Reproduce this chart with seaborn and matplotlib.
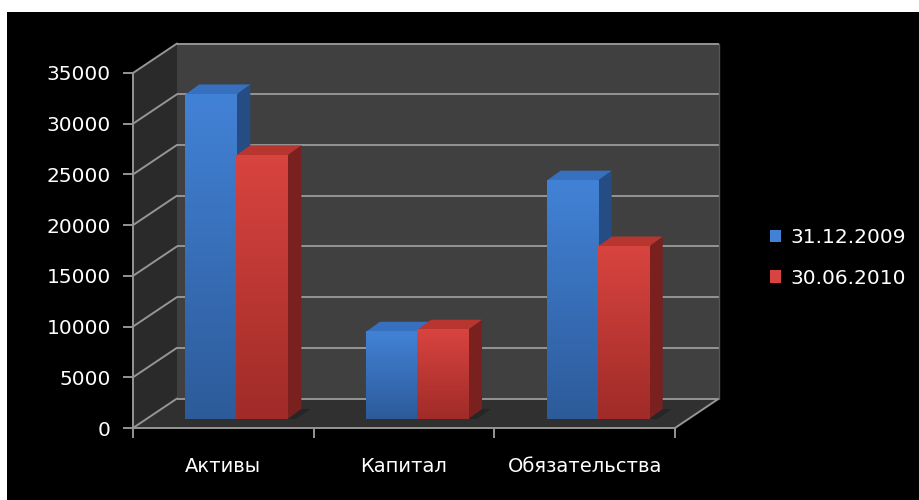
import numpy as np
import pandas as pd
import matplotlib
matplotlib.use("Agg")
import matplotlib.pyplot as plt
import seaborn as sns
from matplotlib.patches import Polygon, Rectangle, Patch
from matplotlib.colors import LinearSegmentedColormap

# ---------------- data ----------------
categories = ["Активы", "Капитал", "Обязательства"]
series_names = ["31.12.2009", "30.06.2010"]
values_2009 = [32000, 8600, 23500]
values_2010 = [26000, 8800, 17000]
y_ticks = [0, 5000, 10000, 15000, 20000, 25000, 30000, 35000]

# ---------------- style ----------------
sns.set_theme(style="dark")
plt.rcParams["font.family"] = ["DejaVu Sans"]

BLUE = {"front_top": "#4282d6", "front_bot": "#2d5b9a", "side": "#264d83", "top": "#3670bf"}
RED = {"front_top": "#d8443f", "front_bot": "#a02b28", "side": "#7a201e", "top": "#b93530"}
GRID = "#959595"
BACK_WALL = "#404040"
SIDE_WALL = "#2a2a2a"
FLOOR = "#303030"

W, H = 920, 500
fig = plt.figure(figsize=(W / 100, H / 100), dpi=100, facecolor="white")
fig.patches.append(Rectangle((7 / W, 0), 1, (H - 12) / H, transform=fig.transFigure,
                             facecolor="black", edgecolor="none", zorder=-10))

ax_left, ax_right, ax_bottom, ax_top = 133, 675, 428, 73
ax = fig.add_axes([ax_left / W, (H - ax_bottom) / H, (ax_right - ax_left) / W, (ax_bottom - ax_top) / H])
ax.set_facecolor("none")

df = pd.DataFrame({
    "Категория": categories * 2,
    "Дата": [s for s in series_names for _ in categories],
    "Значение": values_2009 + values_2010,
})
sns.barplot(data=df, x="Категория", y="Значение", hue="Дата", order=categories,
            hue_order=series_names, palette=[BLUE["front_top"], RED["front_top"]],
            width=0.565, saturation=1, errorbar=None, legend=False, ax=ax)

XMIN, XMAX, YMIN, YMAX = -0.5, 2.5, 0, 35000
px_x = (XMAX - XMIN) / (ax_right - ax_left)     # data units per pixel
px_y = (YMAX - YMIN) / (ax_bottom - ax_top)

WDX, WDY = 44 * px_x, 29.5 * px_y   # depth of the box
BDX, BDY = 13 * px_x, 9 * px_y      # bar front-face offset
DDX, DDY = 14 * px_x, 10 * px_y     # bar depth

# ---------------- walls & floor ----------------
ax.add_patch(Polygon([(XMIN + WDX, YMIN + WDY), (XMAX + WDX, YMIN + WDY),
                      (XMAX + WDX, YMAX + WDY), (XMIN + WDX, YMAX + WDY)],
                     closed=True, facecolor=BACK_WALL, edgecolor="none", clip_on=False, zorder=0.2))
ax.add_patch(Polygon([(XMIN, YMIN), (XMIN + WDX, YMIN + WDY), (XMIN + WDX, YMAX + WDY), (XMIN, YMAX)],
                     closed=True, facecolor=SIDE_WALL, edgecolor="none", clip_on=False, zorder=0.3))
ax.add_patch(Polygon([(XMIN, YMIN), (XMAX, YMIN), (XMAX + WDX, YMIN + WDY), (XMIN + WDX, YMIN + WDY)],
                     closed=True, facecolor=FLOOR, edgecolor="none", clip_on=False, zorder=0.3))

for v in y_ticks:
    ax.plot([XMIN + WDX, XMAX + WDX], [v + WDY, v + WDY], color=GRID, lw=1.4,
            clip_on=False, zorder=0.5, solid_capstyle="butt")
    ax.plot([XMIN, XMIN + WDX], [v, v + WDY], color=GRID, lw=1.4, clip_on=False, zorder=0.5)
ax.plot([XMAX, XMAX + WDX], [YMIN, YMIN + WDY], color=GRID, lw=1.4, clip_on=False, zorder=0.5)
ax.plot([XMAX + WDX, XMAX + WDX], [YMIN + WDY, YMAX + WDY], color="#555555", lw=1.0,
        clip_on=False, zorder=0.5)

# ---------------- 3D bars built from seaborn's bars ----------------
grad = np.linspace(1, 0, 128).reshape(-1, 1)
for container, col in zip(ax.containers, [BLUE, RED]):
    cmap = LinearSegmentedColormap.from_list("g", [col["front_bot"], col["front_top"]])
    for bar in container:
        x0 = bar.get_x() + BDX
        x1 = x0 + bar.get_width()
        y0 = bar.get_y() + BDY
        y1 = y0 + bar.get_height()
        bar.set_visible(False)
        z = 3 if col is BLUE else 4
        # soft shadow on the floor
        ax.add_patch(Polygon([(x1, y0), (x1 + 0.05, y0), (x1 + DDX + 0.05, y0 + DDY), (x1 + DDX, y0 + DDY)],
                             closed=True, facecolor="#1c1c1c", edgecolor="none", alpha=0.45, zorder=1))
        ax.add_patch(Polygon([(x1, y0), (x1 + DDX, y0 + DDY), (x1 + DDX, y1 + DDY), (x1, y1)],
                             closed=True, facecolor=col["side"], edgecolor="none", zorder=z))
        ax.add_patch(Polygon([(x0, y1), (x1, y1), (x1 + DDX, y1 + DDY), (x0 + DDX, y1 + DDY)],
                             closed=True, facecolor=col["top"], edgecolor="none", zorder=z))
        ax.imshow(grad, extent=(x0, x1, y0, y1), cmap=cmap, aspect="auto",
                  interpolation="bicubic", zorder=z + 0.1)

ax.set_xlim(XMIN, XMAX)
ax.set_ylim(YMIN, YMAX)

# ---------------- axes, ticks, labels ----------------
for s in ["top", "right"]:
    ax.spines[s].set_visible(False)
for s in ["left", "bottom"]:
    ax.spines[s].set_visible(True)
    ax.spines[s].set_color(GRID)
    ax.spines[s].set_linewidth(1.4)

ax.set_yticks(y_ticks)
ax.set_yticklabels([str(v) for v in y_ticks])
ax.tick_params(axis="y", which="major", direction="out", length=7, width=1.4, color=GRID,
               labelcolor="white", labelsize=14.5, pad=9, left=True)
ax.set_xticks(range(len(categories)))
ax.set_xticklabels(categories)
ax.set_xticks([XMIN, 0.5, 1.5, XMAX], minor=True)
ax.tick_params(axis="x", which="major", length=0, labelcolor="white", labelsize=14, pad=21)
ax.tick_params(axis="x", which="minor", direction="out", length=7, width=1.4, color=GRID, bottom=True)
ax.set_xlabel("")
ax.set_ylabel("")
ax.grid(False)

# ---------------- legend ----------------
handles = [Patch(facecolor=BLUE["front_top"], edgecolor="none"),
           Patch(facecolor=RED["front_top"], edgecolor="none")]
leg = fig.legend(handles, series_names, loc="center left", bbox_to_anchor=(770 / W, 1 - 258 / H),
                 frameon=False, fontsize=14.5, handlelength=0.55, handleheight=0.55,
                 handletextpad=0.45, labelspacing=1.05, borderaxespad=0, borderpad=0)
for t in leg.get_texts():
    t.set_color("white")

fig.savefig("out.png", dpi=100, facecolor=fig.get_facecolor())
